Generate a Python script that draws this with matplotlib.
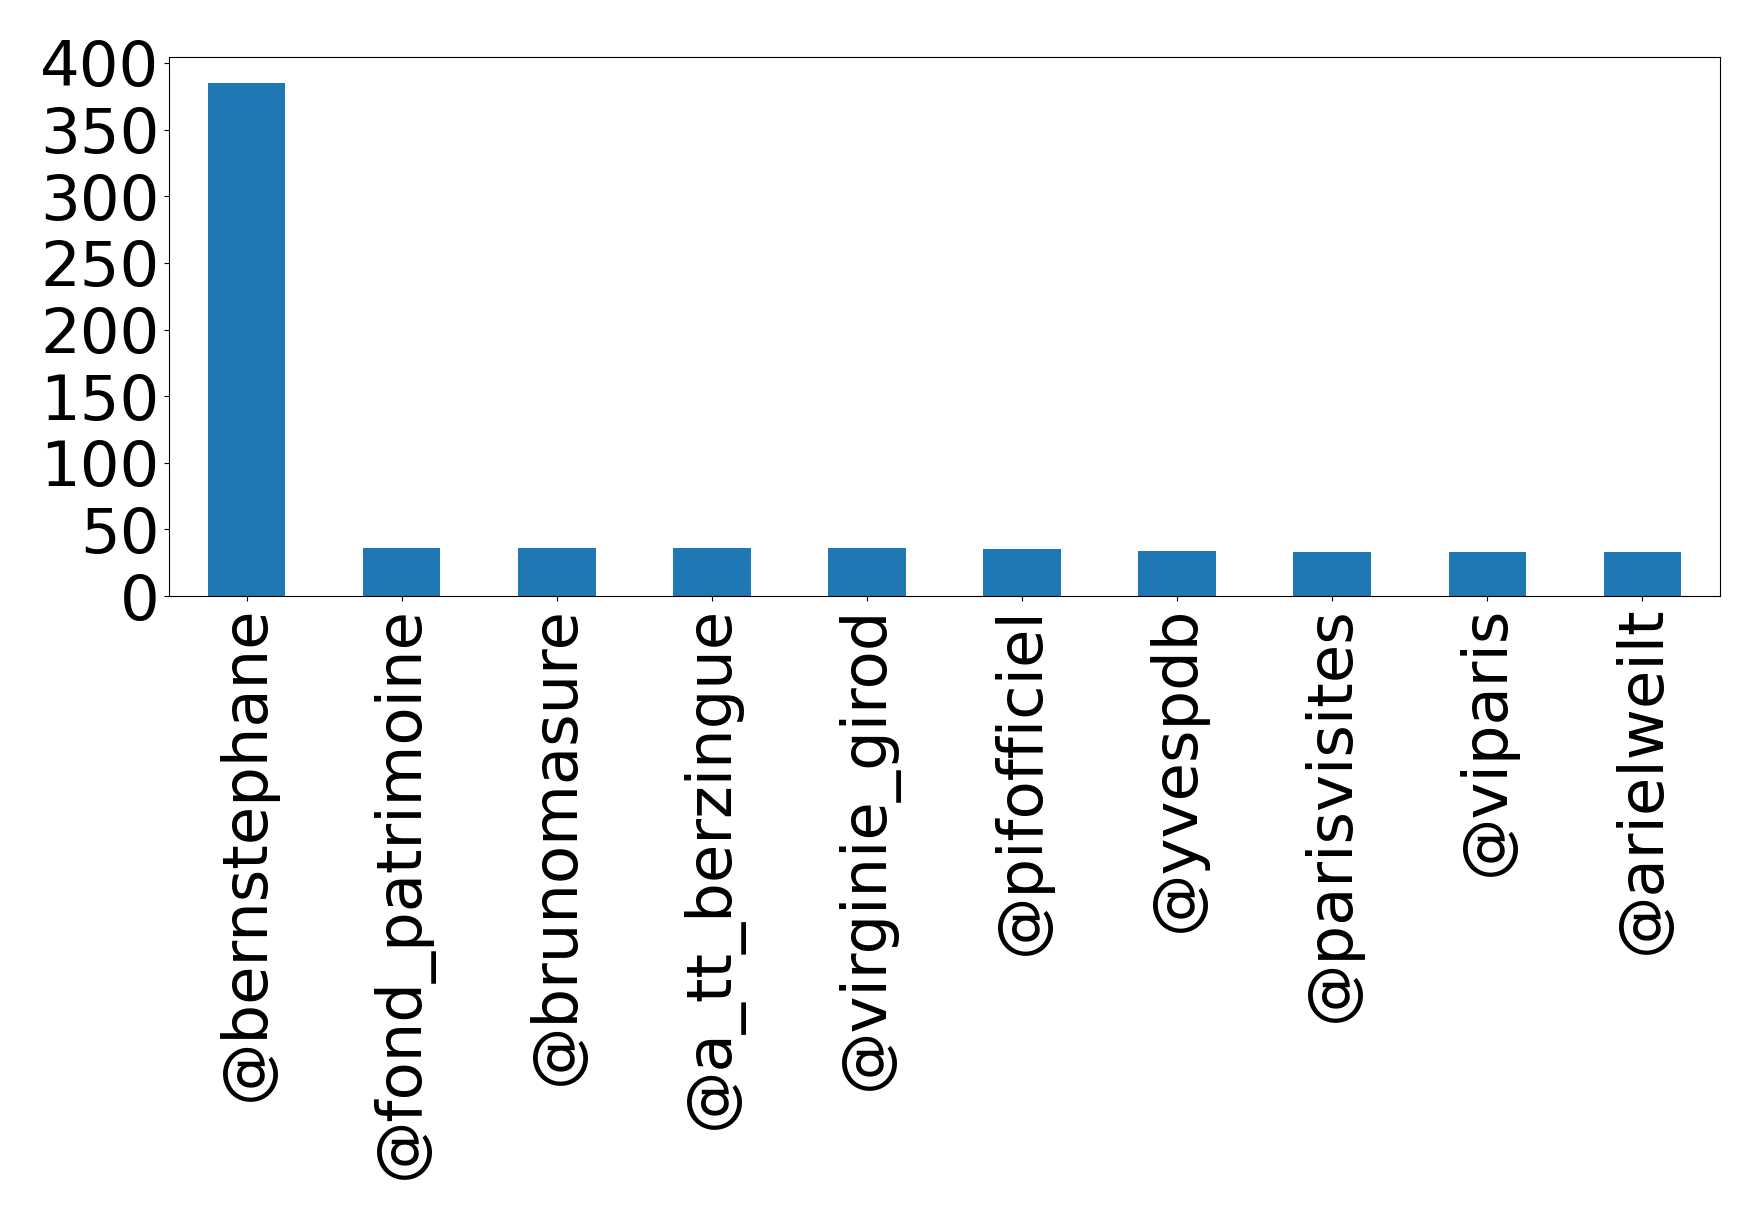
import matplotlib
matplotlib.use("Agg")
import matplotlib.pyplot as plt
import numpy as np

# data
accounts = ["@bernstephane", "@fond_patrimoine", "@brunomasure", "@a_tt_berzingue",
            "@virginie_girod", "@pifofficiel", "@yvespdb", "@parisvisites",
            "@viparis", "@arielweilt"]
counts = [385, 36, 36, 36, 36, 35, 34, 33, 33, 33]

# figure
fig = plt.figure(figsize=(17.59, 12.19), dpi=100)
ax = fig.add_axes([0.0961, 0.511, 0.8817, 0.442])

x = np.arange(len(accounts))
ax.bar(x, counts, width=0.5, color='#1f77b4')
ax.set_xlim(-0.5, len(accounts) - 0.5)
ax.set_ylim(0, max(counts) * 1.05)

# ticks
ax.set_xticks(x)
ax.set_xticklabels(accounts, rotation=90, fontsize=45)
ax.set_yticks(np.arange(0, 401, 50))
ax.tick_params(axis='y', labelsize=45)

fig.savefig("out.png", dpi=100)
